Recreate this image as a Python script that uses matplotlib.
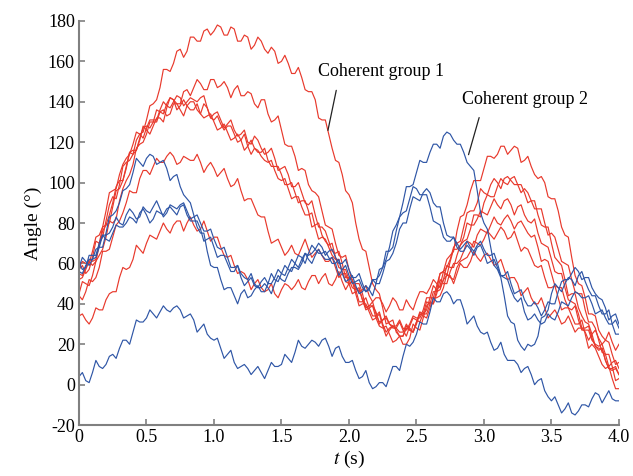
import numpy as np
import matplotlib
matplotlib.use("Agg")
import matplotlib.pyplot as plt

red_1 = [57, 59, 55, 57, 63, 71, 70, 73, 81, 89, 93, 92, 99, 108, 110, 111, 114, 121, 124, 125,
         131, 138, 139, 141, 147, 156, 156, 155, 159, 165, 166, 162, 165, 172, 172, 170, 170, 175, 176, 173,
         175, 178, 177, 173, 173, 177, 176, 170, 170, 173, 172, 166, 168, 172, 170, 166, 164, 167, 165, 159,
         160, 163, 159, 154, 154, 157, 152, 146, 145, 145, 141, 132, 131, 131, 124, 117, 111, 110, 104, 96,
         94, 90, 80, 72, 67, 66, 58, 50, 47, 45, 38, 30, 31, 32, 26, 24, 24, 28, 27, 26,
         31, 36, 35, 37, 43, 49, 47, 49, 56, 62, 64, 66, 76, 83, 84, 89, 96, 101, 101, 101,
         107, 113, 113, 112, 114, 118, 118, 114, 116, 118, 117, 110, 111, 113, 108, 104, 102, 103, 100, 93,
         92, 92, 86, 78, 74, 73, 63, 54, 50, 49, 43, 35, 35, 34, 27, 24, 22, 21, 15, 10,
         11]
red_2 = [55, 54, 58, 62, 61, 62, 70, 78, 79, 84, 90, 98, 101, 101, 108, 115, 116, 116, 121, 128,
         126, 124, 128, 132, 132, 130, 137, 142, 141, 139, 139, 145, 146, 143, 147, 151, 149, 146, 146, 151,
         151, 147, 148, 150, 147, 142, 146, 148, 143, 143, 145, 144, 139, 137, 141, 141, 134, 130, 131, 133,
         126, 119, 118, 118, 113, 106, 107, 106, 99, 96, 95, 93, 86, 79, 78, 77, 70, 64, 63, 64,
         57, 51, 50, 50, 45, 38, 39, 39, 33, 29, 28, 29, 25, 21, 22, 24, 20, 20, 23, 30,
         28, 27, 33, 39, 41, 40, 47, 55, 56, 58, 62, 68, 70, 71, 78, 85, 86, 86, 90, 97,
         95, 94, 99, 102, 100, 97, 102, 103, 101, 99, 99, 99, 95, 90, 91, 91, 84, 79, 78, 78,
         70, 63, 61, 59, 52, 44, 45, 45, 38, 34, 31, 30, 25, 19, 18, 18, 12, 8, 8, 9,
         5]
red_3 = [58, 61, 60, 60, 66, 73, 74, 78, 86, 95, 96, 97, 104, 109, 112, 114, 119, 125, 124, 122,
         127, 131, 131, 131, 136, 140, 138, 137, 140, 143, 142, 138, 140, 142, 141, 140, 142, 143, 137, 132,
         134, 135, 131, 127, 129, 131, 126, 123, 124, 126, 120, 119, 123, 121, 117, 114, 115, 117, 112, 106,
         107, 108, 104, 98, 98, 100, 95, 90, 89, 91, 84, 78, 78, 76, 71, 66, 65, 66, 60, 53,
         53, 52, 47, 41, 41, 43, 38, 34, 34, 36, 30, 26, 28, 29, 27, 24, 24, 29, 28, 26,
         31, 35, 35, 35, 40, 46, 46, 47, 52, 59, 58, 58, 64, 69, 71, 72, 77, 84, 84, 83,
         90, 94, 93, 93, 98, 102, 100, 99, 102, 103, 99, 95, 97, 95, 91, 87, 87, 87, 80, 74,
         75, 73, 67, 61, 60, 59, 52, 46, 45, 45, 37, 31, 31, 28, 22, 16, 15, 15, 9, 2,
         3]
red_4 = [52, 53, 57, 61, 59, 61, 69, 76, 79, 80, 88, 96, 97, 101, 107, 115, 114, 116, 122, 127,
         128, 127, 130, 136, 135, 134, 139, 142, 141, 136, 138, 141, 138, 136, 136, 139, 134, 132, 133, 134,
         130, 126, 127, 129, 125, 121, 122, 124, 121, 116, 118, 121, 117, 115, 115, 117, 111, 108, 108, 108,
         104, 99, 99, 100, 95, 90, 91, 91, 86, 78, 79, 80, 74, 71, 69, 70, 63, 58, 57, 57,
         52, 48, 47, 48, 42, 37, 38, 39, 36, 30, 32, 34, 30, 29, 29, 32, 28, 27, 30, 34,
         33, 33, 37, 43, 43, 43, 49, 55, 56, 54, 61, 67, 67, 69, 73, 80, 79, 79, 82, 86,
         85, 84, 88, 92, 89, 87, 91, 92, 89, 84, 88, 89, 84, 81, 80, 82, 75, 70, 69, 68,
         62, 56, 55, 55, 48, 42, 41, 40, 35, 28, 28, 29, 23, 19, 17, 18, 12, 8, 7, 8,
         5]
red_5 = [45, 51, 50, 49, 54, 61, 64, 67, 73, 81, 80, 82, 91, 97, 101, 104, 109, 117, 119, 120,
         124, 130, 130, 130, 135, 136, 133, 134, 139, 139, 136, 133, 138, 140, 140, 136, 134, 139, 137, 132,
         131, 133, 129, 126, 128, 128, 124, 120, 121, 124, 118, 114, 117, 116, 113, 111, 110, 111, 106, 102,
         101, 102, 97, 92, 93, 93, 88, 84, 84, 85, 78, 72, 73, 72, 68, 64, 62, 62, 56, 51,
         50, 51, 45, 39, 40, 40, 36, 32, 33, 35, 29, 24, 27, 29, 28, 26, 26, 30, 27, 26,
         30, 35, 34, 33, 38, 43, 43, 44, 48, 55, 53, 52, 58, 61, 62, 63, 66, 71, 70, 69,
         72, 76, 74, 72, 75, 78, 76, 72, 73, 76, 71, 66, 68, 67, 63, 59, 58, 59, 53, 48,
         48, 49, 43, 37, 38, 38, 34, 30, 30, 32, 25, 18, 20, 18, 14, 10, 8, 9, 3, -2,
         -2]
red_6 = [44, 42, 46, 52, 51, 53, 58, 66, 66, 67, 73, 79, 81, 85, 90, 96, 95, 95, 102, 106,
         106, 104, 108, 112, 110, 110, 113, 115, 113, 109, 110, 113, 112, 111, 111, 114, 110, 105, 108, 110,
         107, 103, 105, 107, 102, 98, 99, 102, 96, 91, 92, 92, 88, 84, 83, 83, 76, 70, 71, 72,
         68, 64, 66, 69, 65, 64, 68, 72, 67, 63, 65, 67, 64, 61, 61, 63, 58, 53, 55, 55,
         50, 45, 46, 47, 42, 38, 39, 41, 35, 31, 32, 33, 30, 28, 28, 31, 27, 24, 29, 33,
         32, 31, 35, 41, 40, 40, 45, 52, 50, 50, 56, 60, 60, 62, 66, 71, 70, 68, 74, 77,
         76, 75, 79, 83, 80, 79, 82, 84, 81, 77, 80, 81, 78, 75, 73, 74, 68, 61, 62, 61,
         55, 49, 48, 48, 42, 38, 37, 39, 32, 27, 27, 27, 22, 20, 19, 20, 15, 9, 11, 12,
         8]
red_7 = [34, 35, 32, 30, 33, 38, 37, 37, 42, 45, 46, 46, 53, 58, 57, 58, 62, 69, 67, 65,
         70, 74, 73, 72, 76, 80, 77, 75, 79, 81, 81, 76, 80, 83, 79, 76, 77, 81, 76, 71,
         73, 73, 68, 64, 63, 64, 59, 55, 56, 55, 52, 47, 50, 52, 48, 46, 47, 50, 45, 43,
         47, 50, 49, 47, 49, 52, 48, 47, 51, 54, 54, 50, 53, 55, 50, 49, 52, 56, 51, 47,
         50, 51, 48, 46, 47, 49, 44, 41, 43, 43, 40, 36, 39, 43, 41, 37, 37, 42, 39, 37,
         42, 46, 46, 45, 48, 52, 50, 48, 52, 54, 54, 50, 55, 60, 58, 58, 61, 66, 63, 61,
         64, 65, 62, 59, 60, 62, 57, 52, 53, 53, 50, 44, 46, 48, 43, 40, 40, 43, 38, 33,
         35, 37, 34, 30, 31, 34, 30, 26, 28, 28, 26, 22, 25, 27, 23, 20, 22, 26, 21, 17,
         20]

blue_1 = [58, 63, 61, 59, 62, 67, 68, 68, 75, 83, 84, 86, 90, 96, 97, 99, 105, 112, 110, 108,
          112, 114, 113, 109, 110, 111, 107, 101, 103, 104, 98, 94, 92, 90, 84, 78, 75, 75, 66, 59,
          58, 58, 52, 47, 48, 48, 44, 40, 45, 47, 43, 44, 47, 49, 46, 46, 50, 55, 52, 51,
          55, 59, 57, 56, 60, 64, 63, 60, 65, 69, 67, 65, 65, 66, 63, 60, 60, 62, 55, 51,
          52, 54, 49, 45, 46, 49, 47, 44, 50, 57, 58, 62, 68, 76, 79, 83, 90, 98, 98, 99,
          105, 111, 110, 110, 115, 119, 119, 117, 123, 125, 124, 121, 119, 119, 115, 110, 108, 106, 96, 85,
          80, 77, 68, 59, 57, 53, 44, 34, 31, 30, 22, 19, 17, 20, 19, 20, 24, 33, 34, 37,
          45, 50, 48, 46, 50, 53, 52, 49, 54, 56, 51, 47, 44, 44, 39, 35, 35, 37, 30, 25,
          25]
blue_2 = [60, 57, 58, 64, 64, 64, 70, 74, 74, 75, 78, 83, 80, 79, 84, 87, 85, 82, 83, 88,
          86, 85, 88, 91, 87, 83, 85, 89, 88, 87, 89, 90, 86, 82, 83, 84, 80, 76, 76, 77,
          72, 68, 67, 68, 63, 58, 58, 59, 55, 53, 52, 55, 50, 48, 51, 53, 50, 50, 53, 57,
          55, 54, 58, 62, 60, 58, 62, 65, 64, 65, 67, 70, 68, 64, 66, 67, 63, 60, 60, 62,
          57, 53, 53, 55, 50, 46, 48, 52, 52, 54, 58, 66, 66, 68, 76, 83, 85, 86, 92, 98,
          97, 94, 94, 94, 88, 81, 80, 79, 73, 71, 71, 73, 70, 67, 69, 71, 68, 66, 69, 71,
          67, 64, 64, 65, 60, 54, 53, 52, 47, 43, 41, 43, 36, 32, 33, 35, 32, 30, 31, 35,
          33, 32, 36, 41, 40, 39, 43, 46, 45, 43, 43, 44, 40, 35, 36, 37, 33, 30, 30, 32,
          28]
blue_3 = [4, 6, 2, 1, 6, 12, 9, 8, 10, 14, 15, 13, 18, 22, 22, 20, 26, 32, 31, 31,
          33, 37, 35, 33, 36, 39, 37, 36, 38, 39, 37, 33, 34, 35, 32, 26, 28, 30, 25, 23,
          22, 23, 18, 13, 15, 17, 11, 8, 9, 10, 8, 5, 7, 9, 6, 3, 7, 11, 9, 9,
          10, 15, 13, 11, 16, 22, 19, 18, 20, 22, 21, 19, 22, 23, 19, 14, 18, 19, 14, 11,
          11, 12, 7, 3, 4, 7, 1, -2, -1, 1, 1, -1, 4, 9, 9, 7, 14, 20, 19, 21,
          25, 31, 30, 30, 36, 43, 41, 41, 45, 46, 44, 40, 42, 42, 37, 30, 32, 34, 29, 26,
          25, 26, 21, 17, 18, 21, 15, 12, 12, 12, 10, 6, 8, 9, 5, 0, 2, 3, -3, -6,
          -8, -6, -10, -14, -12, -9, -14, -15, -13, -10, -10, -11, -7, -4, -5, -9, -6, -3, -7, -8,
          -8]
blue_4 = [56, 55, 59, 62, 62, 63, 68, 74, 72, 71, 75, 79, 78, 78, 80, 83, 82, 80, 85, 87,
          84, 80, 82, 86, 85, 84, 87, 88, 86, 84, 88, 89, 84, 81, 81, 81, 77, 71, 72, 73,
          68, 63, 64, 64, 60, 56, 56, 59, 53, 49, 51, 53, 49, 48, 48, 50, 48, 45, 50, 54,
          52, 51, 55, 58, 58, 57, 60, 65, 62, 60, 64, 67, 64, 62, 62, 63, 60, 54, 57, 59,
          54, 50, 51, 52, 48, 46, 47, 52, 50, 50, 55, 61, 62, 65, 70, 77, 80, 80, 87, 93,
          92, 91, 95, 97, 95, 90, 88, 88, 80, 74, 73, 73, 68, 66, 66, 69, 67, 64, 68, 69,
          65, 60, 61, 62, 58, 54, 54, 56, 50, 45, 46, 47, 42, 39, 39, 41, 38, 34, 37, 41,
          40, 40, 46, 51, 52, 52, 55, 58, 56, 52, 53, 53, 48, 45, 43, 42, 38, 32, 34, 35,
          30]

red_traces = [red_1, red_2, red_3, red_4, red_5, red_6, red_7]
blue_traces = [blue_1, blue_2, blue_3, blue_4]

x_ticks = [0, 0.5, 1.0, 1.5, 2.0, 2.5, 3.0, 3.5, 4.0]
x_ticklabels = ['0', '0.5', '1.0', '1.5', '2.0', '2.5', '3.0', '3.5', '4.0']
y_ticks = [-20, 0, 20, 40, 60, 80, 100, 120, 140, 160, 180]

plt.rcParams['font.family'] = ['Liberation Serif', 'DejaVu Serif']
plt.rcParams['mathtext.fontset'] = 'stix'
plt.rcParams['axes.unicode_minus'] = False

fig = plt.figure(figsize=(6.33, 4.76), dpi=100)
ax = fig.add_axes([0.1248, 0.107, 0.853, 0.849])

for vals in red_traces:
    t = np.linspace(0, 4, len(vals))
    ax.plot(t, vals, color='#e8392c', lw=0.85)
for vals in blue_traces:
    t = np.linspace(0, 4, len(vals))
    ax.plot(t, vals, color='#2f56a6', lw=0.85)

ax.set_xlim(0, 4)
ax.set_ylim(-20, 180)
ax.set_xticks(x_ticks)
ax.set_xticklabels(x_ticklabels)
ax.set_yticks(y_ticks)
ax.tick_params(direction='in', length=4, width=1.2, color='#808080',
               labelsize=13, pad=3)

for side in ['top', 'right']:
    ax.spines[side].set_visible(False)
for side in ['left', 'bottom']:
    ax.spines[side].set_color('#808080')
    ax.spines[side].set_linewidth(1.5)

ax.set_ylabel('Angle (°)', fontsize=14, labelpad=4)
ax.set_xlabel('$\\it{t}$ (s)', fontsize=14, labelpad=2)

# labels for the two coherent groups
ax.annotate('', xy=(1.84, 124.5), xytext=(1.91, 147),
            arrowprops=dict(arrowstyle='-', color='#222222', lw=0.9))
ax.text(1.77, 155, 'Coherent group 1', fontsize=13, ha='left', va='center')
ax.annotate('', xy=(2.88, 112.5), xytext=(2.97, 133.5),
            arrowprops=dict(arrowstyle='-', color='#222222', lw=0.9))
ax.text(2.84, 141, 'Coherent group 2', fontsize=13, ha='left', va='center')

fig.savefig('out.png', dpi=100)
